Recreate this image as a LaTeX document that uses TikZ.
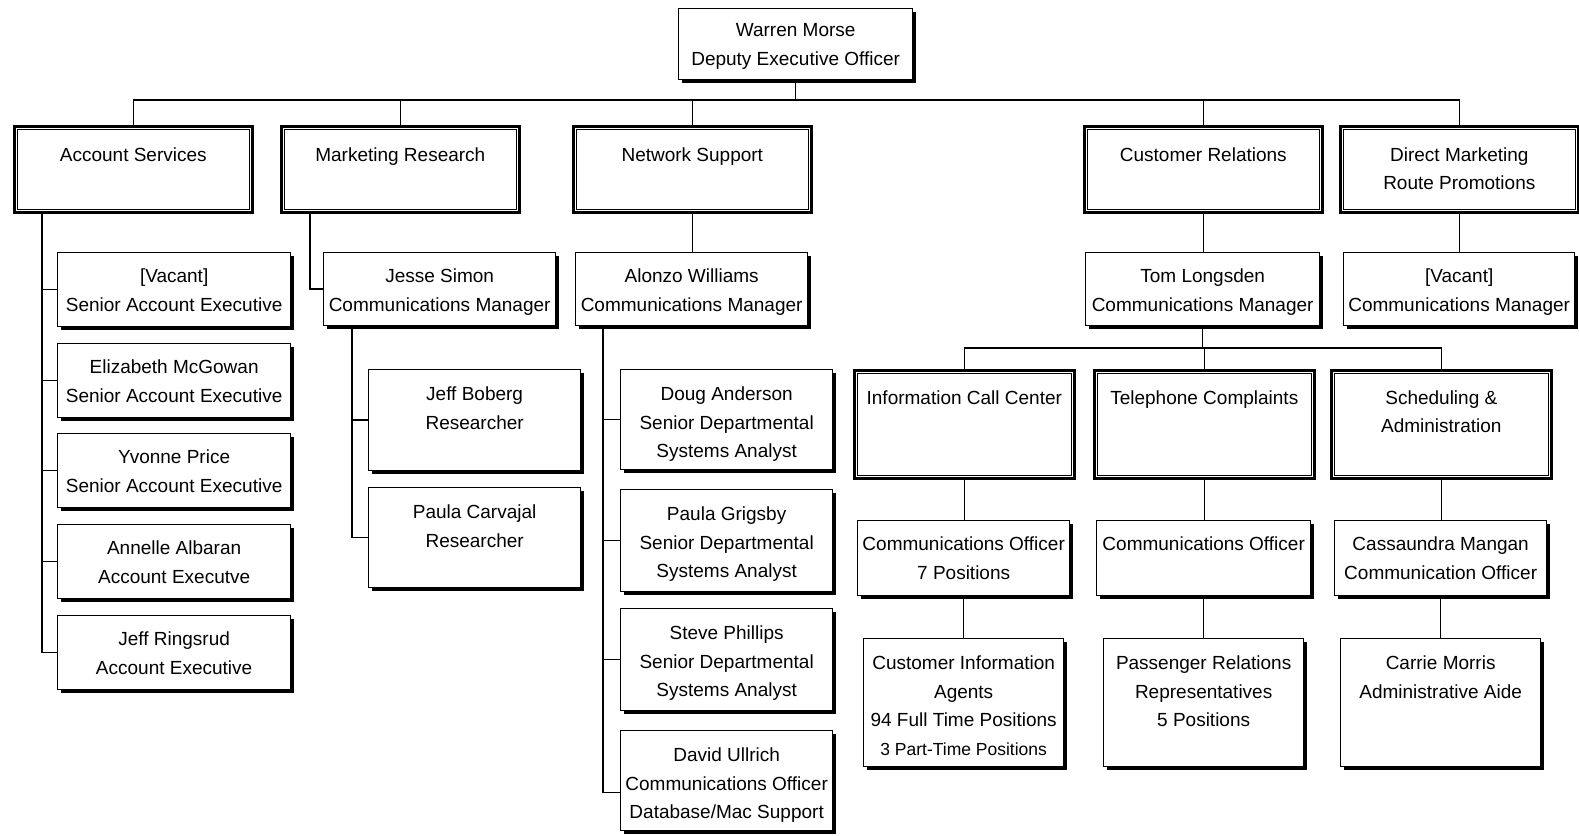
\documentclass[tikz,border=0pt]{standalone}
\usepackage{fontspec}
\setmainfont{Liberation Sans}
\usetikzlibrary{shadows}
\tikzset{
  conn/.style={line width=1.4pt},
  pbox/.style={draw, line width=1.3pt, fill=white, inner sep=0pt,
    drop shadow={shadow xshift=3pt, shadow yshift=-3pt, fill=black, opacity=1}},
  dbox/.style={draw, line width=2.6pt, fill=white, inner sep=0pt},
  inbox/.style={draw, line width=0.9pt},
  every node/.style={font=\fontsize{19}{28.5}\selectfont}
}
% #1 style, #2 name, #3 x, #4 y, #5 width, #6 height, #7 first baseline, #8 text
\newcommand\orgbox[8]{%
  \node[#1, anchor=north west, minimum width=#5pt, minimum height=#6pt] (#2) at (#3,#4)
    {\parbox[c][#6pt][t]{#5pt}{\centering\rule{0pt}{#7pt}#8}};}
\newcommand\innerframe[1]{%
  \draw[inbox] ([shift={(4.5pt,-4.5pt)}]#1.north west) rectangle ([shift={(-4.5pt,4.5pt)}]#1.south east);}
\begin{document}
\begin{tikzpicture}[x=1pt,y=-1pt]
\fill[white] (0,0) rectangle (1579,835);
\useasboundingbox (0,0) rectangle (1579,835);

% top
\orgbox{pbox}{warren}{678}{8}{234}{71}{28}{Warren Morse\\Deputy Executive Officer}

% departments
\orgbox{dbox}{acc}{13}{125}{238}{86}{35}{Account Services}
\orgbox{dbox}{mkt}{280}{125}{238}{86}{35}{Marketing Research}
\orgbox{dbox}{net}{572}{125}{238}{86}{35}{Network Support}
\orgbox{dbox}{cust}{1083}{125}{238}{86}{35}{Customer Relations}
\orgbox{dbox}{dir}{1339}{125}{238}{86}{35}{Direct Marketing\\Route Promotions}
\innerframe{acc}\innerframe{mkt}\innerframe{net}\innerframe{cust}\innerframe{dir}

% account services
\orgbox{pbox}{a1}{57}{252}{233}{74}{30}{[Vacant]\\Senior Account Executive}
\orgbox{pbox}{a2}{57}{343}{233}{74}{30}{Elizabeth McGowan\\Senior Account Executive}
\orgbox{pbox}{a3}{57}{433}{233}{74}{30}{Yvonne Price\\Senior Account Executive}
\orgbox{pbox}{a4}{57}{524}{233}{74}{30}{Annelle Albaran\\Account Executve}
\orgbox{pbox}{a5}{57}{615}{233}{74}{30}{Jeff Ringsrud\\Account Executive}

% marketing research
\orgbox{pbox}{jesse}{323}{252}{232}{73}{30}{Jesse Simon\\Communications Manager}
\orgbox{pbox}{boberg}{368}{369}{212}{101}{31}{Jeff Boberg\\Researcher}
\orgbox{pbox}{carvajal}{368}{487}{212}{100}{31}{Paula Carvajal\\Researcher}

% network support
\orgbox{pbox}{alonzo}{575}{252}{232}{73}{30}{Alonzo Williams\\Communications Manager}
\orgbox{pbox}{doug}{620}{369}{212}{100}{31}{Doug Anderson\\Senior Departmental\\Systems Analyst}
\orgbox{pbox}{grigsby}{620}{489}{212}{102}{31}{Paula Grigsby\\Senior Departmental\\Systems Analyst}
\orgbox{pbox}{steve}{620}{608}{212}{102}{31}{Steve Phillips\\Senior Departmental\\Systems Analyst}
\orgbox{pbox}{david}{620}{730}{212}{100}{31}{David Ullrich\\Communications Officer\\Database/Mac Support}

% customer relations
\orgbox{pbox}{tom}{1085}{252}{234}{73}{30}{Tom Longsden\\Communications Manager}
\orgbox{dbox}{info}{853}{369}{220}{108}{34}{Information Call Center}
\orgbox{dbox}{tel}{1093}{369}{220}{108}{34}{Telephone Complaints}
\orgbox{dbox}{sched}{1330}{369}{220}{108}{34}{Scheduling \&\\Administration}
\innerframe{info}\innerframe{tel}\innerframe{sched}
\orgbox{pbox}{co7}{857}{520}{212}{75}{30}{Communications Officer\\7 Positions}
\orgbox{pbox}{co}{1096}{520}{214}{75}{30}{Communications Officer}
\orgbox{pbox}{cass}{1334}{520}{212}{75}{30}{Cassaundra Mangan\\Communication Officer}
\orgbox{pbox}{agents}{863}{638}{200}{128}{31}{Customer Information\\Agents\\94 Full Time Positions\\{\fontsize{17.5}{27}\selectfont 3 Part-Time Positions}}
\orgbox{pbox}{passenger}{1103}{638}{200}{128}{31}{Passenger Relations\\Representatives\\5 Positions}
\orgbox{pbox}{carrie}{1340}{638}{200}{128}{31}{Carrie Morris\\Administrative Aide}

% direct marketing
\orgbox{pbox}{vac}{1343}{252}{231}{73}{30}{[Vacant]\\Communications Manager}

% connectors
\coordinate (bus) at (795,100);
\draw[conn] (warren.south) -- (warren.south |- bus);
\draw[conn] (warren.south |- bus) -| (acc.north);
\draw[conn] (warren.south |- bus) -| (mkt.north);
\draw[conn] (warren.south |- bus) -| (net.north);
\draw[conn] (warren.south |- bus) -| (cust.north);
\draw[conn] (warren.south |- bus) -| (dir.north);

\coordinate (acctrunk) at ([xshift=29pt]acc.south west);
\foreach \n in {a1,a2,a3,a4,a5} \draw[conn] (acctrunk) |- (\n.west);

\draw[conn] ([xshift=30pt]mkt.south west) |- (jesse.west);
\coordinate (jtrunk) at ([xshift=29pt]jesse.south west);
\draw[conn] (jtrunk) |- (boberg.west);
\draw[conn] (jtrunk) |- (carvajal.west);

\draw[conn] (net.south) -- (net.south |- alonzo.north);
\coordinate (atrunk) at ([xshift=28pt]alonzo.south west);
\draw[conn] (atrunk) |- (doug.west);
\draw[conn] (atrunk) |- (grigsby.west);
\draw[conn] (atrunk) |- (steve.west);
\draw[conn] (atrunk) |- ([yshift=-12pt]david.west);

\draw[conn] (cust.south) -- (cust.south |- tom.north);
\coordinate (bus2) at (1202,348);
\draw[conn] (tom.south) -- (tom.south |- bus2);
\draw[conn] (tom.south |- bus2) -| (info.north);
\draw[conn] (tom.south |- bus2) -| (tel.north);
\draw[conn] (tom.south |- bus2) -| (sched.north);
\draw[conn] (info.south) -- (info.south |- co7.north);
\draw[conn] (co7.south) -- (co7.south |- agents.north);
\draw[conn] (tel.south) -- (tel.south |- co.north);
\draw[conn] (co.south) -- (co.south |- passenger.north);
\draw[conn] (sched.south) -- (sched.south |- cass.north);
\draw[conn] (cass.south) -- (cass.south |- carrie.north);

\draw[conn] (dir.south) -- (dir.south |- vac.north);
\end{tikzpicture}
\end{document}
